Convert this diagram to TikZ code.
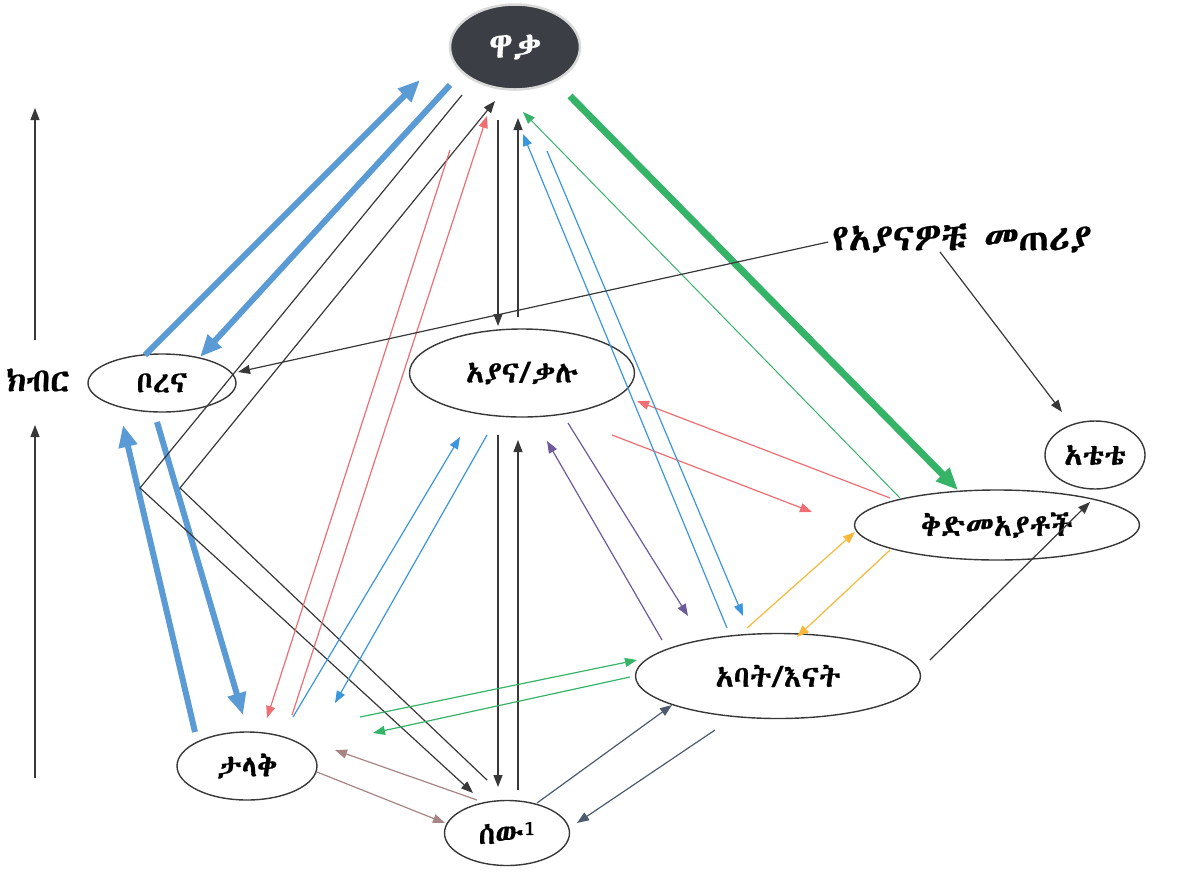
\documentclass[tikz,border=0pt]{standalone}
\usepackage{fontspec}
\usetikzlibrary{shapes.geometric,arrows.meta,calc}
\IfFontExistsTF{Abyssinica SIL}{\newfontfamily\ethfont[FakeBold=0.6]{Abyssinica SIL}}{%
  \IfFontExistsTF{FreeSerif}{\newfontfamily\ethfont[FakeBold=0.6]{FreeSerif}}{%
    \IfFontExistsTF{Noto Sans Ethiopic}{\newfontfamily\ethfont[FakeBold=0.6]{Noto Sans Ethiopic}}{%
      \newfontfamily\ethfont{DejaVu Sans}}}}

\definecolor{heavyBlue}{HTML}{5B9BD5}
\definecolor{skyBlue}{HTML}{3A96DD}
\definecolor{roseRed}{HTML}{EE6E73}
\definecolor{leafGreen}{HTML}{35B468}
\definecolor{dustyPurple}{HTML}{6B5B9E}
\definecolor{amber}{HTML}{F6B93B}
\definecolor{mauve}{HTML}{A88484}
\definecolor{slate}{HTML}{4D5B6E}
\definecolor{inkGray}{HTML}{383838}
\definecolor{nightSlate}{HTML}{3B3E44}

\begin{document}
\begin{tikzpicture}[x=1pt, y=-1pt,
    ent/.style={ellipse, draw=inkGray, line width=1.4pt, inner sep=0pt,
      font=\ethfont\fontsize{30}{35}\selectfont},
    link/.style={-{Triangle[length=12pt,width=9pt]}, line width=1.2pt},
    heavy/.style={-{Triangle[length=22pt,width=18pt]}, line width=6pt}]
    \useasboundingbox (0,0) rectangle (1195,871);

    \node[ent, fill=nightSlate, text=white, draw=gray!30, line width=2.5pt,
      minimum width=130pt, minimum height=85pt,
      font=\ethfont\fontsize{36}{40}\selectfont] (waaqa) at (515,47) {ዋቃ};
    \node[ent, minimum width=148pt, minimum height=58pt] (borena) at (162,383) {ቦረና};
    \node[ent, minimum width=225pt, minimum height=88pt] (ayana) at (522,373) {አያና/ቃሉ};
    \node[ent, minimum width=100pt, minimum height=68pt] (atete) at (1095,455) {አቴቴ};
    \node[ent, minimum width=285pt, minimum height=70pt] (qdme) at (997,525) {ቅድመአያቶች};
    \node[ent, minimum width=285pt, minimum height=85pt] (abaat) at (778,676) {አባት/እናት};
    \node[ent, minimum width=140pt, minimum height=68pt] (talaq) at (247,766) {ታላቅ};
    \node[ent, minimum width=125pt, minimum height=65pt] (seu) at (507,833) {ሰው\textsuperscript{1}};
    \node[font=\ethfont\fontsize{33}{38}\selectfont, inner sep=0pt] (kibir) at (38,380) {ክብር};
    \node[font=\ethfont\fontsize{37}{42}\selectfont, inner sep=0pt] (naming) at (962,238) {የአያናዎቹ መጠሪያ};

    \coordinate (axisTop) at (35,108);
    \coordinate (axisMid) at (35,425);
    \coordinate (bendA) at (140,488);
    \coordinate (bendB) at (180,488);

    \draw[link, inkGray] ($(axisTop)+(0,232)$) -- (axisTop);
    \draw[link, inkGray] ($(axisMid)+(0,353)$) -- (axisMid);

    \draw[heavy, heavyBlue] ($(borena)+(-17,-28)$) -- ($(waaqa)+(-95,33)$);
    \draw[heavy, heavyBlue] ($(waaqa)+(-65,38)$) -- ($(borena)+(38,-26)$);
    \draw[heavy, heavyBlue] ($(talaq)+(-52,-34)$) -- ($(borena)+(-39,42)$);
    \draw[heavy, heavyBlue] ($(borena)+(-5,39)$) -- ($(talaq)+(-4,-51)$);
    \draw[heavy, leafGreen, line width=7pt] ($(waaqa)+(55,49)$) -- ($(qdme)+(-39,-35)$);

    \draw[link, inkGray] ($(waaqa)+(-53,48)$) -- (bendA) -- ($(seu)+(-34,-40)$);
    \draw[link, inkGray] ($(seu)+(-20,-53)$) -- (bendB) -- ($(waaqa)+(-20,54)$);
    \draw[link, inkGray] ($(waaqa)+(-17,73)$) -- ($(ayana)+(-24,-47)$);
    \draw[link, inkGray] ($(ayana)+(-4,-56)$) -- ($(waaqa)+(3,71)$);
    \draw[link, inkGray] ($(ayana)+(-24,62)$) -- ($(seu)+(-9,-46)$);
    \draw[link, inkGray] ($(seu)+(11,-43)$) -- ($(ayana)+(-4,67)$);

    \draw[link, roseRed] ($(waaqa)+(-65,103)$) -- ($(talaq)+(20,-48)$);
    \draw[link, roseRed] ($(talaq)+(45,-51)$) -- ($(waaqa)+(-28,69)$);
    \draw[link, roseRed] ($(qdme)+(-107,-27)$) -- ($(ayana)+(115,28)$);
    \draw[link, roseRed] ($(ayana)+(90,62)$) -- ($(qdme)+(-185,-13)$);

    \draw[link, skyBlue] ($(talaq)+(46,-49)$) -- ($(ayana)+(-62,64)$);
    \draw[link, skyBlue] ($(ayana)+(-35,62)$) -- ($(talaq)+(88,-63)$);
    \draw[link, skyBlue] ($(abaat)+(-51,-48)$) -- ($(waaqa)+(8,87)$);
    \draw[link, skyBlue] ($(waaqa)+(32,104)$) -- ($(abaat)+(-35,-60)$);

    \draw[link, leafGreen, line width=1pt] ($(qdme)+(-97,-27)$) -- ($(waaqa)+(8,65)$);
    \draw[link, leafGreen] ($(talaq)+(113,-49)$) -- ($(abaat)+(-141,-16)$);
    \draw[link, leafGreen] ($(abaat)+(-148,1)$) -- ($(talaq)+(126,-33)$);

    \draw[link, dustyPurple] ($(ayana)+(46,50)$) -- ($(abaat)+(-90,-60)$);
    \draw[link, dustyPurple] ($(abaat)+(-116,-36)$) -- ($(ayana)+(25,68)$);

    \draw[link, amber] ($(abaat)+(-31,-48)$) -- ($(qdme)+(-142,7)$);
    \draw[link, amber] ($(qdme)+(-107,25)$) -- ($(abaat)+(19,-39)$);

    \draw[link, mauve] ($(seu)+(-30,-33)$) -- ($(talaq)+(88,-16)$);
    \draw[link, mauve] ($(talaq)+(70,6)$) -- ($(seu)+(-62,-10)$);

    \draw[link, slate] ($(seu)+(30,-30)$) -- ($(abaat)+(-106,29)$);
    \draw[link, slate] ($(abaat)+(-63,54)$) -- ($(seu)+(70,-10)$);

    \draw[link, inkGray] ($(abaat)+(152,-16)$) -- ($(qdme)+(93,-23)$);
    \draw[link, inkGray] ($(naming.west)+(-4,4)$) -- ($(borena)+(76,-11)$);
    \draw[link, inkGray] ($(naming)+(-22,14)$) -- ($(atete)+(-33,-43)$);
\end{tikzpicture}
\end{document}
